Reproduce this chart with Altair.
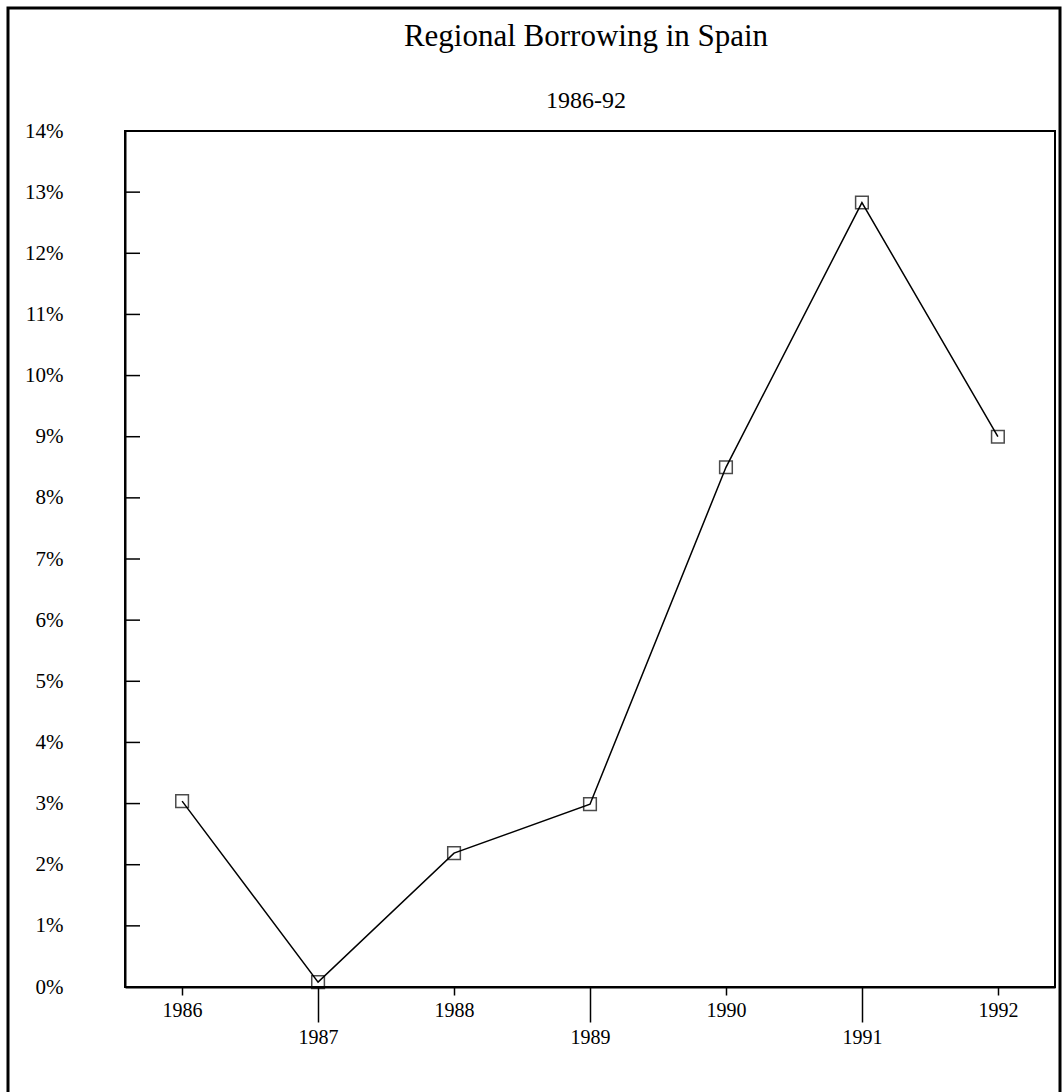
import altair as alt
import pandas as pd

years = [1986, 1987, 1988, 1989, 1990, 1991, 1992]
borrowing = [3.04, 0.08, 2.19, 2.99, 8.5, 12.83, 9.0]
y_ticks = list(range(0, 15))

df = pd.DataFrame({"year": years, "pct": borrowing})
ticks_df = pd.DataFrame({"v": y_ticks})

FONT = "Liberation Serif"

x_scale = alt.Scale(domain=[1985.58, 1992.42], nice=False, zero=False)
y_scale = alt.Scale(domain=[0, 14], nice=False)

x_axis = alt.Axis(
    values=years, format="d", title=None, grid=False,
    labelFont=FONT, labelFontSize=20, labelColor="black",
    tickColor="black", tickWidth=1.5,
    tickSize={"condition": {"test": "datum.value % 2 == 1", "value": 35}, "value": 8},
    labelPadding=5,
    domainColor="black", domainWidth=2, labelFlush=False, labelOverlap=False,
)
y_axis = alt.Axis(
    values=y_ticks, labelExpr="datum.value + '%'", title=None, grid=False,
    ticks=False, labelFont=FONT, labelFontSize=21, labelColor="black",
    labelPadding=62, labelAlign="right", labelBaseline="middle",
    domainColor="black", domainWidth=2,
)

base = alt.Chart(df)

line = base.mark_line(color="black", strokeWidth=1.5).encode(
    x=alt.X("year:Q", scale=x_scale, axis=x_axis),
    y=alt.Y("pct:Q", scale=y_scale, axis=y_axis),
)
points = base.mark_point(shape="square", filled=False, color="black", size=160, strokeWidth=1.5).encode(
    x=alt.X("year:Q", scale=x_scale),
    y=alt.Y("pct:Q", scale=y_scale),
)
inner_ticks = alt.Chart(ticks_df).mark_rule(color="black", strokeWidth=1.5).encode(
    y=alt.Y("v:Q", scale=y_scale),
    x=alt.value(0),
    x2=alt.value(15),
)
frame = alt.Chart(alt.Data(values=[{"a": 1}])).mark_rect(
    fill=None, stroke="black", strokeWidth=3
).encode(
    x=alt.value(-117), x2=alt.value(935), y=alt.value(-123), y2=alt.value(1000)
)

chart = alt.layer(frame, inner_ticks, line, points).properties(
    width=930, height=856,
    padding={"left": 125, "top": 131, "right": 7, "bottom": 105},
    autosize=alt.AutoSizeParams(type="none"),
    title=alt.TitleParams(
        text="Regional Borrowing in Spain", subtitle="1986-92",
        font=FONT, fontSize=31, fontWeight="normal", color="black",
        subtitleFont=FONT, subtitleFontSize=24, subtitleColor="black",
        anchor="middle", frame="group", offset=-107, subtitlePadding=36, dx=-4,
    ),
).configure(
    background="white",
    view=alt.ViewConfig(stroke="black", strokeWidth=2),
)

chart.save("out.html", embed_options={"renderer": "svg", "actions": False})
